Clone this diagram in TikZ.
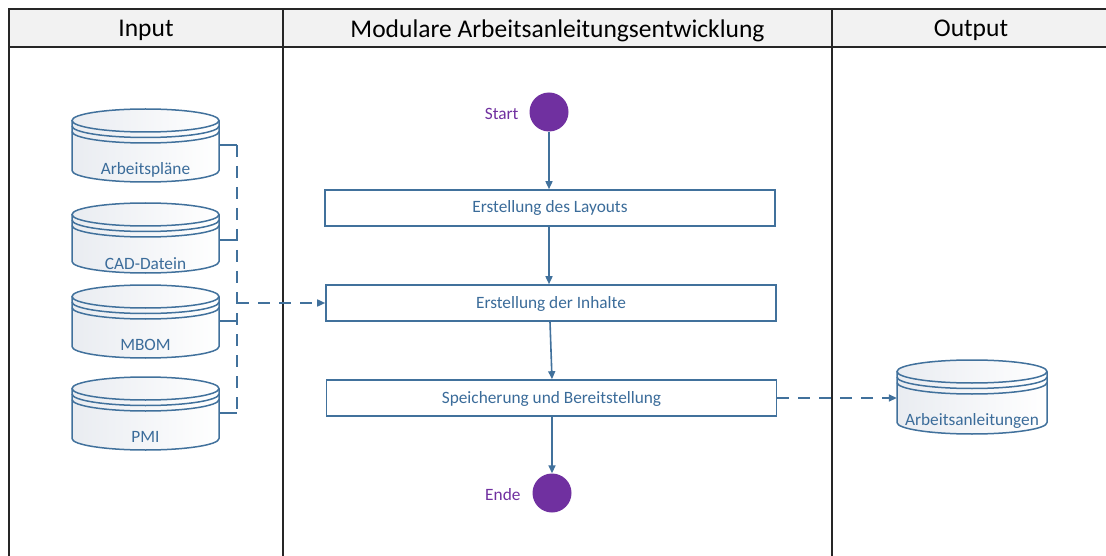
\documentclass[tikz,border=0pt]{standalone}
\usepackage{fontspec}
\setmainfont{Carlito}
\usetikzlibrary{arrows.meta}
\definecolor{flowblue}{HTML}{41719C}
\definecolor{flowtext}{HTML}{3B6C9A}
\definecolor{termpurple}{HTML}{7030A0}
\definecolor{headfill}{HTML}{F2F2F2}
\definecolor{framegray}{HTML}{262626}
\definecolor{drumshade}{HTML}{E9ECF1}
\tikzset{
  frameline/.style={draw=framegray, line width=1.8pt},
  lanehead/.style={font=\fontsize{25.5}{28}\selectfont, text=black, yshift=-2.5pt},
  stepbox/.style={draw=flowblue, line width=1.6pt, fill=white, minimum width=450pt,
    minimum height=36pt, inner sep=0pt, text=flowtext, font=\fontsize{17.3}{20}\selectfont,
    text height=12pt, text depth=2pt},
  terminal/.style={circle, fill=termpurple, minimum size=39pt, inner sep=0pt},
  termlabel/.style={text=termpurple, font=\fontsize{17.3}{20}\selectfont, yshift=-1.5pt},
  flow/.style={draw=flowblue, line width=1.6pt, -{Triangle[length=8pt,width=7pt]}},
  dataflow/.style={draw=flowblue, line width=1.6pt, dash pattern=on 12pt off 9pt},
  stub/.style={draw=flowblue, line width=1.6pt},
  drumline/.style={draw=flowblue, line width=1.5pt},
  drumlabel/.style={text=flowtext, font=\fontsize{17.3}{20}\selectfont, yshift=-1.5pt},
}
% data store drum: #1 name, #2 centre x, #3 top y, #4 bottom y, #5 half width, #6 label, #7 label y
\newcommand\drum[7]{%
  \node[minimum width={2*#5 pt}, minimum height={(#4-#3)*1pt}, inner sep=0pt] (#1) at (#2,{-(#3+#4)/2}) {};
  \fill[left color=drumshade, right color=white]
    ({#2-#5},{-(#3+11.5)}) -- ({#2-#5},{-(#4-11.5)}) arc[start angle=180,end angle=360,x radius=#5,y radius=11.5]
    -- ({#2+#5},{-(#3+11.5)}) -- cycle;
  \draw[drumline] ({#2-#5},{-(#3+11.5)}) -- ({#2-#5},{-(#4-11.5)}) arc[start angle=180,end angle=360,x radius=#5,y radius=11.5]
    -- ({#2+#5},{-(#3+11.5)});
  \draw[drumline, left color=drumshade, right color=white] (#2,{-(#3+11.5)}) ellipse[x radius=#5, y radius=11.5];
  \draw[drumline] ({#2-#5},{-(#3+17)}) arc[start angle=180,end angle=360,x radius=#5,y radius=11.5];
  \draw[drumline] ({#2-#5},{-(#3+22.5)}) arc[start angle=180,end angle=360,x radius=#5,y radius=11.5];
  \node[drumlabel] at (#2,{-#7}) {#6};
}
\begin{document}
\begin{tikzpicture}[x=1pt,y=1pt]
\useasboundingbox (0,0) rectangle (1106,-556);
\fill[white] (0,0) rectangle (1106,-556);

% swimlane frame
\fill[headfill] (9,-9) rectangle (1106,-47);
\draw[frameline] (1106,-9) -- (9,-9) -- (9,-556);
\draw[frameline] (9,-47) -- (1106,-47);
\draw[frameline] (283,-9) -- (283,-556);
\draw[frameline] (832,-9) -- (832,-556);
\node[lanehead] (hin) at (146,-28) {Input};
\node[lanehead] (hmid) at (557.5,-28) {Modulare Arbeitsanleitungsentwicklung};
\node[lanehead] (hout) at (971,-28) {Output};

% input data stores
\drum{plans}{145.5}{109}{182}{73.5}{Arbeitspläne}{168}
\drum{cad}{145.5}{203}{273}{73.5}{CAD-Datein}{262}
\drum{mbom}{145.5}{285}{358}{73.5}{MBOM}{343}
\drum{pmi}{145.5}{377}{450}{73.5}{PMI}{435}

% output data store
\drum{instr}{972}{360}{434}{75}{Arbeitsanleitungen}{419}

% process steps
\node[terminal] (start) at (549,-112) {};
\node[termlabel, anchor=east] (startlbl) at (522,-112) {Start};
\node[stepbox] (layout) at (550,-208) {Erstellung des Layouts};
\node[stepbox] (content) at (551,-303) {Erstellung der Inhalte};
\node[stepbox] (store) at (551.5,-398) {Speicherung und Bereitstellung};
\node[terminal] (end) at (552,-493) {};
\node[termlabel, anchor=east] (endlbl) at (524,-493) {Ende};

\coordinate (a1) at (549,0);
\coordinate (a2) at (550,0);
\coordinate (a3) at (552,0);
\draw[flow] (start) -- (layout.north -| a1);
\draw[flow] (layout.south -| a1) -- (content.north -| a1);
\draw[flow] (content.south -| a2) -- (store.north -| a3);
\draw[flow] (store.south -| end) -- (end);

% collecting input line
\coordinate (b1) at (237,-145);
\coordinate (b2) at (237,-240);
\coordinate (b3) at (237,-321);
\coordinate (b4) at (237,-413);
\coordinate (bm) at (237,-303);
\draw[stub] (plans.east |- b1) -- (b1);
\draw[stub] (cad.east |- b2) -- (b2);
\draw[stub] (mbom.east |- b3) -- (b3);
\draw[stub] (pmi.east |- b4) -- (b4);
\draw[dataflow] (b1) -- (b4);
\draw[dataflow, -{Triangle[length=8pt,width=7pt]}] (bm) -- (content.west);

% publishing to output
\draw[dataflow, -{Triangle[length=8pt,width=7pt]}] (store.east) -- (instr.west |- store.east);
\end{tikzpicture}
\end{document}
